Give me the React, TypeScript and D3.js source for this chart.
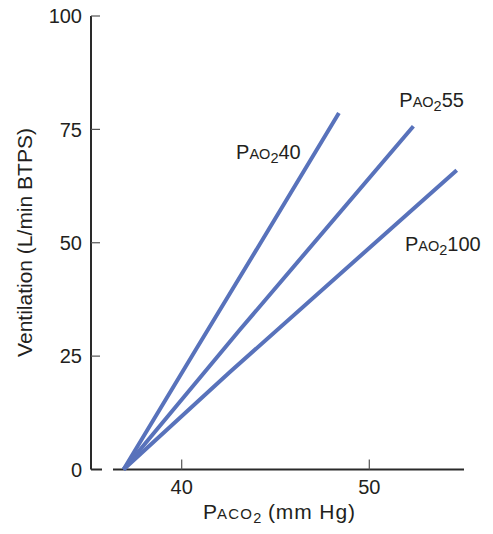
import React from "react";
import * as d3 from "d3";

// Data
const paco2Ticks = [40, 50];
const ventTicks = [0, 25, 50, 75, 100];

const seriesNames = ["40", "55", "100"];
const pao2_40_x = [36.9, 40.75, 44.62, 48.38];
const pao2_40_y = [0, 26.4, 52.8, 78.6];
const pao2_55_x = [36.9, 43.1, 52.35];
const pao2_55_y = [0, 30.8, 75.7];
const pao2_100_x = [36.9, 42.57, 54.66];
const pao2_100_y = [0, 21.5, 66.0];

const seriesX = [pao2_40_x, pao2_55_x, pao2_100_x];
const seriesY = [pao2_40_y, pao2_55_y, pao2_100_y];

const W = 493;
const H = 534;
const FONT = "'Liberation Sans', Arial, Helvetica, sans-serif";
const LINE = "#5872bb";
const AXIS = "#2a2a2a";
const TEXT = "#231f20";

const x = d3.scaleLinear().domain([40, 50]).range([181.7, 369.3]);
const y = d3.scaleLinear().domain([0, 100]).range([469.5, 16]);

const lineGen = d3
  .line<[number, number]>()
  .x((d) => x(d[0]))
  .y((d) => y(d[1]));

function PLabel({ px, py, num }: { px: number; py: number; num: string }) {
  return (
    <text x={px} y={py} fontFamily={FONT} fontSize={20} fill={TEXT}>
      <tspan>P</tspan>
      <tspan fontSize={14.5}>AO</tspan>
      <tspan fontSize={14.5} dy={4}>2</tspan>
      <tspan dy={-4}>{num}</tspan>
    </text>
  );
}

export default function App() {
  const axisY0 = y(0);
  const xAxisStart = 113;
  const xAxisEnd = 464;
  // label anchors in data coordinates
  const lab40 = { px: x(42.9), py: y(68.5) };
  const lab55 = { px: x(51.6), py: y(80.0) };
  const lab100 = { px: x(51.9), py: y(48.2) };
  const labs = [lab40, lab55, lab100];

  return (
    <svg
      width={W}
      height={H}
      style={{ position: "absolute", left: 0, top: 0, background: "#fff" }}
    >
      {/* y axis */}
      <line x1={91} x2={91} y1={y(100)} y2={axisY0} stroke={AXIS} strokeWidth={2} />
      {ventTicks.map((t) => (
        <g key={"yt" + t}>
          <line
            x1={91}
            x2={t === 0 ? 102 : 100}
            y1={y(t)}
            y2={y(t)}
            stroke={t === 0 ? AXIS : "#555"}
            strokeWidth={t === 0 ? 2 : 1.2}
          />
          <text
            x={82}
            y={y(t)}
            dy="0.36em"
            textAnchor="end"
            fontFamily={FONT}
            fontSize={20}
            fill={TEXT}
          >
            {t}
          </text>
        </g>
      ))}
      {/* x axis */}
      <line x1={xAxisStart} x2={xAxisEnd} y1={axisY0} y2={axisY0} stroke={AXIS} strokeWidth={2} />
      {paco2Ticks.map((t) => (
        <g key={"xt" + t}>
          <line x1={x(t)} x2={x(t)} y1={axisY0 - 10} y2={axisY0} stroke="#555" strokeWidth={1.2} />
          <text
            x={x(t)}
            y={494}
            textAnchor="middle"
            fontFamily={FONT}
            fontSize={20}
            fill={TEXT}
          >
            {t}
          </text>
        </g>
      ))}
      {/* series lines */}
      {seriesX.map((xs, i) => (
        <path
          key={"s" + i}
          d={lineGen(xs.map((v, j) => [v, seriesY[i][j]] as [number, number])) || ""}
          fill="none"
          stroke={LINE}
          strokeWidth={4}
          strokeLinecap="butt"
        />
      ))}
      {seriesNames.map((n, i) => (
        <PLabel key={"l" + n} px={labs[i].px} py={labs[i].py} num={n} />
      ))}
      {/* axis titles */}
      <text
        transform={`translate(32,242.5) rotate(-90)`}
        textAnchor="middle"
        fontFamily={FONT}
        fontSize={21}
        fill={TEXT}
      >
        Ventilation (L/min BTPS)
      </text>
      <text x={203} y={519} fontFamily={FONT} fontSize={21} fill={TEXT}>
        <tspan>P</tspan>
        <tspan fontSize={15} letterSpacing={1.2}>ACO</tspan>
        <tspan fontSize={14.5} dy={4}>2</tspan>
        <tspan dy={-4} letterSpacing={0.9}> (mm Hg)</tspan>
      </text>
    </svg>
  );
}
